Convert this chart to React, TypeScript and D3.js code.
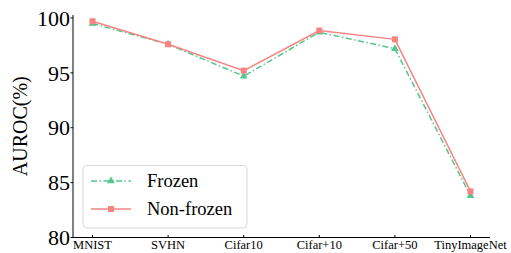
import React from "react";
import * as d3 from "d3";

const categories = ["MNIST", "SVHN", "Cifar10", "Cifar+10", "Cifar+50", "TinyImageNet"];
const frozen = [99.5, 97.6, 94.7, 98.7, 97.2, 83.8];
const nonFrozen = [99.7, 97.6, 95.2, 98.85, 98.05, 84.2];
const yTicks = [80, 85, 90, 95, 100];
const seriesNames = ["Frozen", "Non-frozen"];

const W = 511;
const H = 253;
const left = 73;
const right = 490;
const top = 15;
const bottom = 237.5;

const GREEN = "#52c68c";
const RED = "#f78383";
const FONT = "'Liberation Serif', 'Times New Roman', Times, 'DejaVu Serif', serif";

export default function App() {
  const x = d3.scalePoint<string>().domain(categories).range([92.5, 470.5]);
  const y = d3.scaleLinear().domain([80, 100.27]).range([bottom, top]);
  const line = d3
    .line<number>()
    .x((_, i) => x(categories[i]) as number)
    .y((d) => y(d));
  const tri = d3.symbol().type(d3.symbolTriangle).size(26)();

  return (
    <svg
      width={W}
      height={H}
      fontFamily={FONT}
      style={{ display: "block", position: "absolute", left: 0, top: 0, background: "#fff" }}
    >
      <path d={line(frozen) || ""} fill="none" stroke={GREEN} strokeWidth={1.5} strokeDasharray="6,2.5,1.5,2.5" />
      <path d={line(nonFrozen) || ""} fill="none" stroke={RED} strokeWidth={1.5} />
      {frozen.map((v, i) => (
        <path key={"f" + i} d={tri} transform={`translate(${x(categories[i])},${y(v)})`} fill={GREEN} />
      ))}
      {nonFrozen.map((v, i) => (
        <rect key={"n" + i} x={(x(categories[i]) as number) - 3} y={y(v) - 3} width={6} height={6} fill={RED} />
      ))}
      <line x1={left} x2={left} y1={top} y2={bottom} stroke="#000" strokeWidth={1} />
      <line x1={left} x2={right} y1={bottom} y2={bottom} stroke="#000" strokeWidth={1} />
      {yTicks.map((t) => (
        <g key={t}>
          <line x1={left - 2.5} x2={left} y1={y(t)} y2={y(t)} stroke="#000" />
          <text x={left - 3} y={y(t)} dy="0.35em" textAnchor="end" fontSize={22}>
            {t}
          </text>
        </g>
      ))}
      {categories.map((c) => (
        <g key={c}>
          <line x1={x(c)} x2={x(c)} y1={bottom} y2={bottom - 2.5} stroke="#000" />
          <text x={x(c)} y={bottom + 11} textAnchor="middle" fontSize={12.5}>
            {c}
          </text>
        </g>
      ))}
      <text transform={`translate(27,${(top + bottom) / 2}) rotate(-90)`} textAnchor="middle" fontSize={20}>
        AUROC(%)
      </text>
      <rect x={83} y={165.5} width={164} height={62.5} rx={4} fill="#fff" fillOpacity={0.8} stroke="#d9d9d9" strokeWidth={1} />
      <line x1={91} x2={131} y1={181} y2={181} stroke={GREEN} strokeWidth={1.5} strokeDasharray="6,2.5,1.5,2.5" />
      <path d={tri} transform="translate(111,181)" fill={GREEN} />
      <text x={147} y={181} dy="0.35em" fontSize={18.5}>
        {seriesNames[0]}
      </text>
      <line x1={91} x2={131} y1={209} y2={209} stroke={RED} strokeWidth={1.5} />
      <rect x={108} y={206} width={6} height={6} fill={RED} />
      <text x={147} y={209} dy="0.35em" fontSize={18.5}>
        {seriesNames[1]}
      </text>
    </svg>
  );
}
